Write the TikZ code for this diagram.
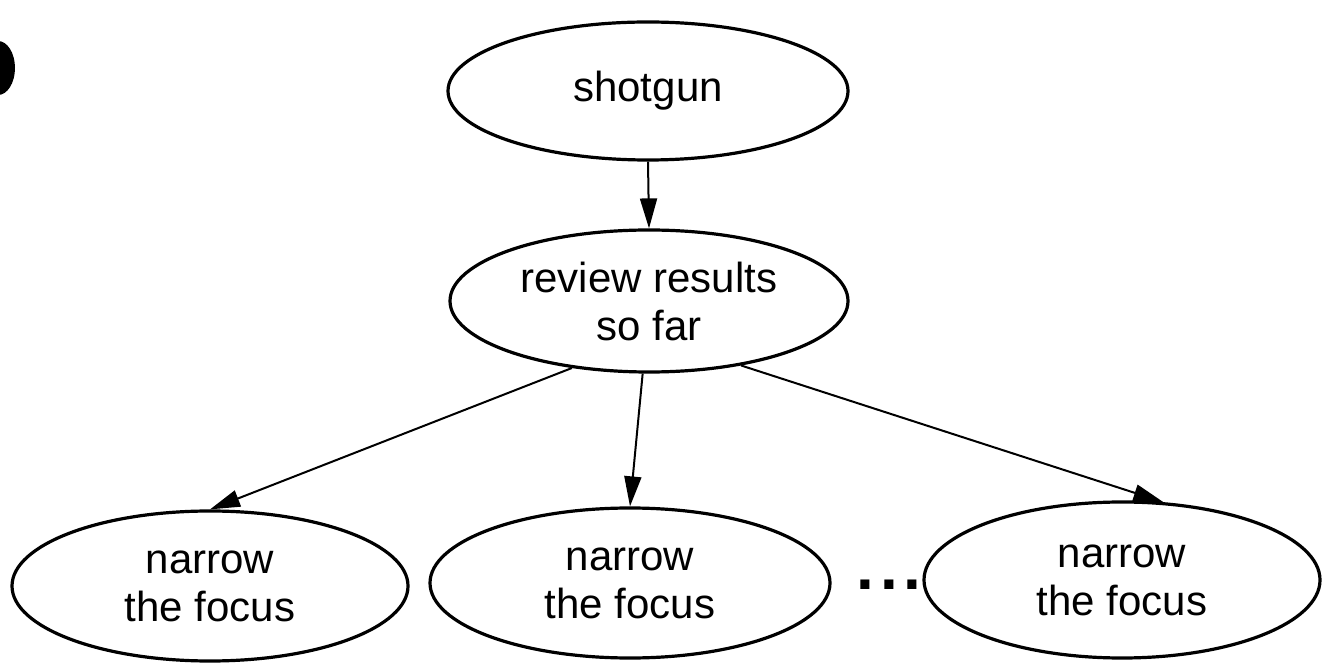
\documentclass[tikz,border=0pt]{standalone}
\usepackage{fontspec}
\setmainfont{Liberation Sans}
\usetikzlibrary{shapes.geometric,arrows.meta}
\begin{document}
\begin{tikzpicture}[x=0.5pt,y=-0.5pt,
  bubble/.style={ellipse, draw, line width=1.6pt, inner sep=0pt, align=center,
    font=\fontsize{21}{24}\selectfont},
  flow/.style={line width=1pt, -{Triangle[length=15pt,width=8.5pt]}}]
\useasboundingbox (0,0) rectangle (1332,667);

% ink mark on the left margin
\fill (-2,68) ellipse [x radius=8.5pt, y radius=13.5pt];

% process steps
\node[bubble, minimum width=200pt, minimum height=69pt] (top) at (648,91) {shotgun};
\node[bubble, minimum width=199pt, minimum height=71pt] (rev) at (649,301) {review results\\so far};
\node[bubble, minimum width=198pt, minimum height=75pt] (n1) at (210,586) {narrow\\the focus};
\node[bubble, minimum width=200pt, minimum height=75pt] (n2) at (630,583) {narrow\\the focus};
\node[bubble, minimum width=198pt, minimum height=78pt] (n3) at (1122,580) {narrow\\the focus};

% ellipsis between the last two steps
\node[font=\fontsize{32}{32}\selectfont\bfseries, inner sep=0pt] (dots) at (889,585)
  {.\kern3pt.\kern3pt.};

% connectors
\draw[flow] (top.south) -- (rev.north);
\draw[flow] (rev.221) -- (n1.north);
\draw[flow] (rev.265) -- (n2.north);
\draw[flow] (rev.-35) -- (n3.62);
\end{tikzpicture}
\end{document}
